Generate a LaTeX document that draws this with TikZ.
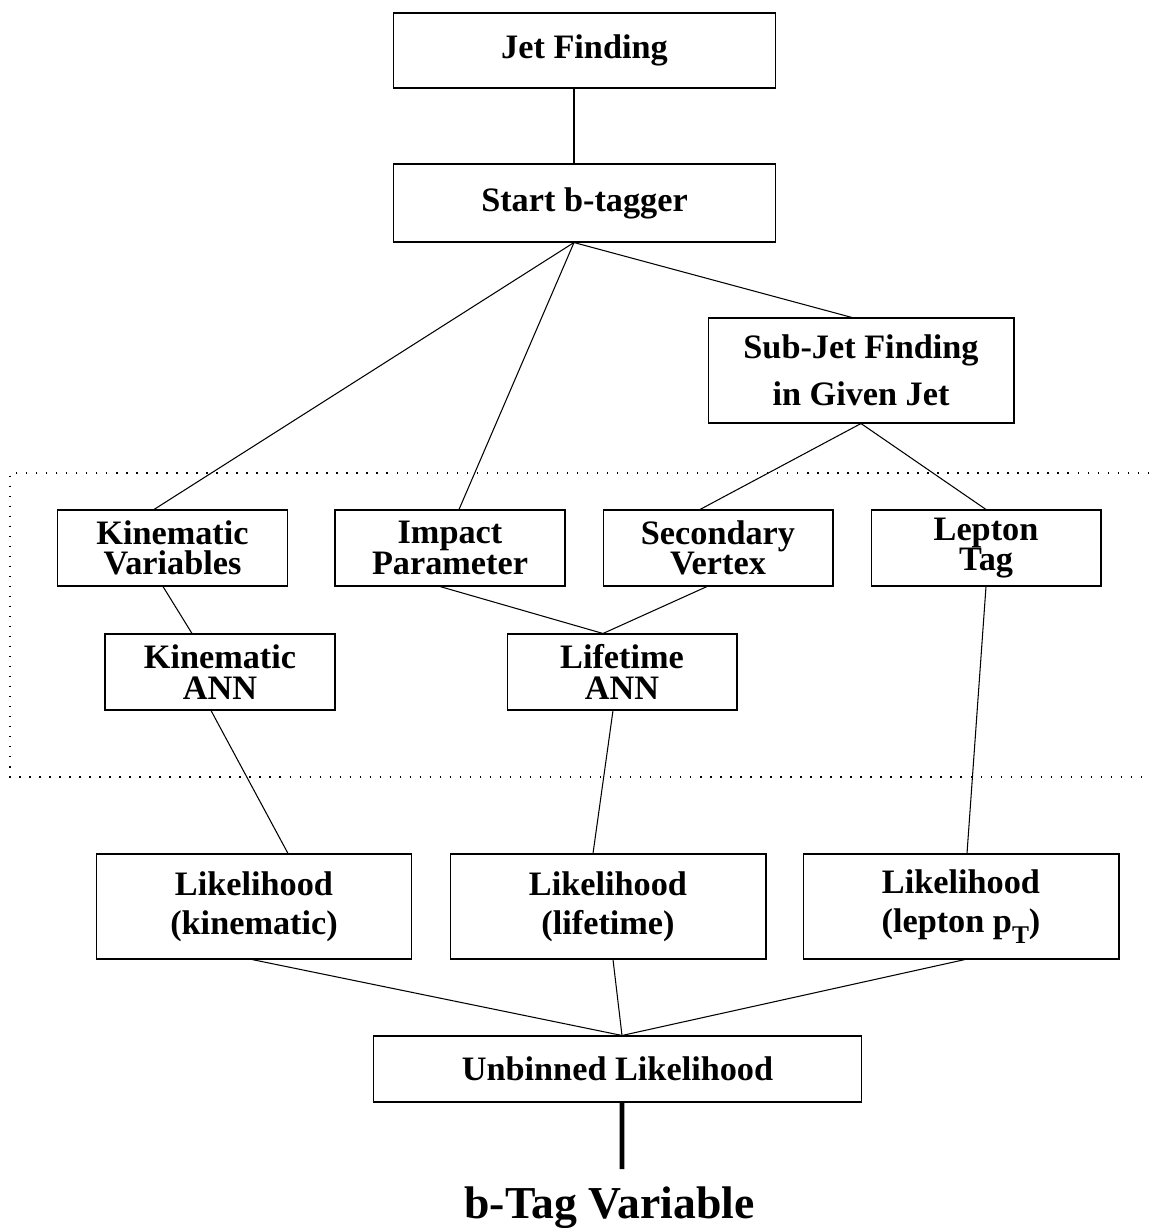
\documentclass[tikz,border=0pt]{standalone}
\usepackage{fontspec}
\setmainfont{Liberation Serif}
\usetikzlibrary{calc}
\begin{document}
\lineskiplimit=-100pt
\begin{tikzpicture}[x=0.02cm,y=-0.02cm,
  box/.style={draw, line width=0.6pt, rectangle, inner sep=0pt, align=center},
  tight/.style={box, font=\fontsize{19.5}{17.2}\selectfont\bfseries, minimum width=4.6cm, minimum height=1.52cm},
  loose/.style={box, font=\fontsize{19.5}{22}\selectfont\bfseries},
  lhood/.style={loose, minimum width=6.32cm, minimum height=2.1cm},
  conn/.style={line width=0.6pt},
  region/.style={line width=0.8pt, dash pattern=on 0.8pt off 4.9pt}]
\useasboundingbox (0,0) rectangle (1149,1228);

% grouped stage: variables and neural networks
\draw[region] (1149,473) -- (10,473) -- (10,777) -- (1149,777);

% boxes
\node[loose, minimum width=7.66cm, minimum height=1.5cm]  (jf) at (584.5,50.5) {Jet Finding};
\node[loose, minimum width=7.66cm, minimum height=1.56cm] (sb) at (584.5,203)  {Start b-tagger};
\node[loose, font=\fontsize{19.5}{26.6}\selectfont\bfseries, minimum width=6.12cm, minimum height=2.1cm] (sj) at (861,370.5) {Sub-Jet Finding\\in Given Jet};

\node[tight] (kv) at (172.5,548) {Kinematic\\Variables};
\node[tight] (ip) at (450,548)   {Impact\\Parameter};
\node[tight] (sv) at (718,548)   {Secondary\\Vertex};
\node[tight] (lt) at (986,548)   {Lepton\\Tag};

\node[tight] (kann) at (220,672) {Kinematic\\ANN};
\node[tight] (lann) at (622,672) {Lifetime\\ANN};

\node[lhood] (lk) at (254,906.5) {Likelihood\\(kinematic)};
\node[lhood] (ll) at (608,906.5) {Likelihood\\(lifetime)};
\node[lhood] (lp) at (961,906.5) {Likelihood\\(lepton p\raisebox{-0.32em}{\fontsize{14.5}{14}\selectfont T})};

\node[loose, minimum width=9.78cm, minimum height=1.32cm] (ub) at (617.5,1069) {Unbinned Likelihood};

\node[anchor=base, inner sep=0pt, font=\fontsize{26}{30}\selectfont\bfseries] (bt) at (609.5,1218) {b-Tag Variable};
\coordinate (tail) at (622,1169);

% connectors
\draw[conn] ($(jf.south)+(-10.5,0)$) -- ($(sb.north)+(-10.5,0)$);
\coordinate (fork) at ($(sb.south)+(-10.5,0)$);
\draw[conn] (fork) -- ($(kv.north)+(-18.5,0)$);
\draw[conn] (fork) -- ($(ip.north)+(9,0)$);
\draw[conn] (fork) -- ($(sj.north)+(-9,0)$);

\draw[conn] (sj.south) -- ($(sv.north)+(-18,0)$);
\draw[conn] (sj.south) -- (lt.north);

\draw[conn] ($(kv.south)+(-9.5,0)$) -- ($(kann.north)+(-28,0)$);
\draw[conn] ($(ip.south)+(-10,0)$) -- ($(lann.north)+(-19,0)$);
\draw[conn] ($(sv.south)+(-11,0)$) -- ($(lann.north)+(-19,0)$);

\draw[conn] ($(kann.south)+(-9,0)$) -- ($(lk.north)+(34,0)$);
\draw[conn] ($(lann.south)+(-9,0)$) -- ($(ll.north)+(-15,0)$);
\draw[conn] (lt.south) -- ($(lp.north)+(6,0)$);

\coordinate (join) at ($(ub.north)+(4.5,0)$);
\draw[conn] ($(lk.south)+(-2,0)$) -- (join);
\draw[conn] ($(ll.south)+(5,0)$) -- (join);
\draw[conn] ($(lp.south)+(4,0)$) -- (join);

\draw[line width=2.8pt] ($(ub.south)+(4.5,0)$) -- (tail);
\end{tikzpicture}
\end{document}
